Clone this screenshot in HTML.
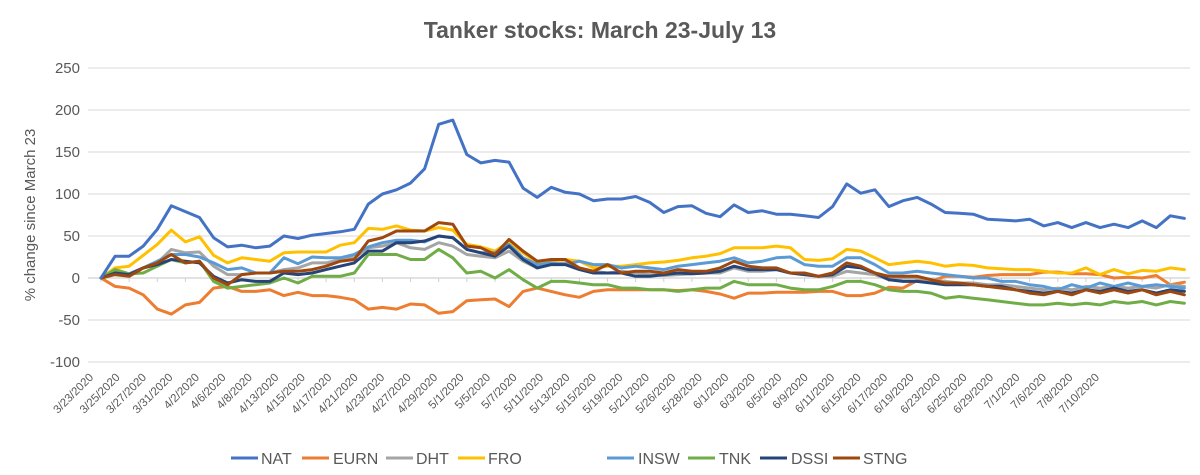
<!DOCTYPE html>
<html><head><meta charset="utf-8"><style>
html,body{margin:0;padding:0;background:#fff;}
svg{display:block;font-family:"Liberation Sans",sans-serif;}
</style></head><body>
<svg id="c" width="1200" height="475" viewBox="0 0 1200 475" xmlns="http://www.w3.org/2000/svg">
<rect width="1200" height="475" fill="#fff"/>
<text x="600" y="38" text-anchor="middle" font-size="23" font-weight="bold" fill="#595959">Tanker stocks: March 23-July 13</text>
<text transform="translate(35,215) rotate(-90)" text-anchor="middle" font-size="15" fill="#595959">% change since March 23</text>
<g id="grid"></g><g id="xl"></g><g id="ser"></g><g id="leg"></g>
</svg>
<script>
const NS="http://www.w3.org/2000/svg";
function el(t,a,p,txt){const e=document.createElementNS(NS,t);for(const k in a)e.setAttribute(k,a[k]);if(txt!==undefined)e.textContent=txt;p.appendChild(e);return e;}
const Y=v=>278-v*0.84, X=i=>101+i*14.07;
const g=document.getElementById('grid');
for(let v=-100;v<=250;v+=50){
  el('line',{x1:88,x2:1190,y1:Y(v),y2:Y(v),stroke:v===0?'#d0d0d0':'#e0e0e0','stroke-width':1.3},g);
  el('text',{x:80,y:Y(v)+5,'text-anchor':'end','font-size':15,fill:'#595959'},g,String(v));
}
for(let i=0;i<=77;i+=2) el('line',{x1:X(i),x2:X(i),y1:278,y2:282,stroke:'#d0d0d0'},g);
const labels=["3/23/2020","3/25/2020","3/27/2020","3/31/2020","4/2/2020","4/6/2020","4/8/2020","4/13/2020","4/15/2020","4/17/2020","4/21/2020","4/23/2020","4/27/2020","4/29/2020","5/1/2020","5/5/2020","5/7/2020","5/11/2020","5/13/2020","5/15/2020","5/19/2020","5/21/2020","5/26/2020","5/28/2020","6/1/2020","6/3/2020","6/5/2020","6/9/2020","6/11/2020","6/15/2020","6/17/2020","6/19/2020","6/23/2020","6/25/2020","6/29/2020","7/1/2020","7/6/2020","7/8/2020","7/10/2020"];
const xl=document.getElementById('xl');
labels.forEach((l,i)=>{const x=94+i*26.47,y=378;el('text',{x:x,y:y,transform:`rotate(-45 ${x} ${y})`,'text-anchor':'end','font-size':11.5,fill:'#595959'},xl,l);});
const S=[
["NAT","#4472C4",[0,26,26,38,58,86,79,72,48,37,39,36,38,50,47,51,53,55,58,88,100,105,113,130,183,188,147,137,140,138,107,96,108,102,100,92,94,94,97,90,78,85,86,77,73,87,78,80,76,76,74,72,85,112,101,105,85,92,96,88,78,77,76,70,69,68,70,62,66,60,66,60,64,60,68,60,74,71]],
["EURN","#ED7D31",[0,-10,-12,-20,-37,-43,-32,-29,-12,-10,-16,-16,-14,-21,-17,-21,-21,-23,-26,-37,-35,-37,-31,-32,-42,-40,-27,-26,-25,-34,-16,-12,-16,-20,-23,-16,-14,-14,-14,-14,-14,-15,-14,-16,-19,-24,-18,-18,-17,-17,-17,-16,-16,-21,-21,-18,-11,-12,-3,-4,2,2,1,3,4,4,4,7,7,5,5,4,0,1,0,3,-8,-5]],
["DHT","#A5A5A5",[0,8,4,12,18,34,30,31,14,4,4,6,6,10,12,18,18,22,24,36,38,42,36,34,42,38,28,26,24,32,20,12,16,18,12,8,6,8,6,4,3,4,5,6,6,12,8,8,10,6,4,2,2,8,6,4,-2,0,0,-2,-4,-6,-6,-8,-8,-10,-12,-14,-12,-14,-10,-12,-10,-12,-10,-12,-8,-10]],
["FRO","#FFC000",[0,12,14,27,40,57,43,49,27,18,24,22,20,30,31,31,31,39,42,59,58,62,57,56,60,57,40,37,32,43,30,18,20,22,20,12,14,14,16,18,19,21,24,26,29,36,36,36,38,36,22,21,23,34,32,24,16,18,20,18,14,16,15,12,11,10,10,8,6,6,12,4,10,5,9,8,12,10]],
["INSW","#5B9BD5",[0,8,5,12,20,28,28,25,18,10,12,6,6,24,17,25,24,24,28,37,42,45,45,43,50,48,34,30,30,40,24,16,18,16,20,16,16,12,14,12,10,14,16,18,20,24,18,20,24,25,16,14,14,24,24,16,6,6,8,6,4,2,0,0,-4,-4,-8,-10,-14,-8,-12,-6,-10,-6,-10,-8,-10,-12]],
["TNK","#70AD47",[0,10,5,6,14,22,18,20,-4,-12,-10,-8,-6,0,-6,2,2,2,6,28,28,28,22,22,34,24,6,8,0,10,-2,-12,-4,-4,-6,-8,-8,-12,-12,-14,-14,-16,-14,-12,-12,-4,-8,-8,-8,-12,-14,-14,-10,-4,-4,-8,-14,-16,-16,-18,-24,-22,-24,-26,-28,-30,-32,-32,-30,-32,-30,-32,-28,-30,-28,-32,-28,-30]],
["DSSI","#264478",[0,6,4,12,16,22,20,18,2,-6,-2,-4,-4,6,4,6,10,14,18,32,32,42,42,44,50,48,34,30,26,38,22,12,16,16,10,6,6,6,2,2,4,6,5,6,8,14,10,10,10,6,4,2,4,14,12,6,-2,-4,-4,-6,-8,-8,-8,-10,-10,-14,-16,-18,-16,-18,-14,-16,-12,-16,-14,-18,-14,-16]],
["STNG","#9E480E",[0,4,2,12,18,28,18,20,0,-8,4,6,6,8,8,10,14,20,22,44,48,56,56,56,66,64,38,36,28,46,32,20,22,22,12,8,16,6,8,8,6,10,8,8,12,20,14,12,12,6,6,2,6,18,14,6,2,2,2,-2,-6,-6,-8,-10,-12,-14,-18,-20,-16,-20,-14,-18,-14,-18,-14,-20,-16,-20]]
];
const drawOrder=[1,2,3,4,5,6,7,0];
const sg=document.getElementById('ser');
drawOrder.forEach(k=>{const s=S[k];el('polyline',{points:s[2].map((v,i)=>X(i).toFixed(1)+','+Y(v).toFixed(1)).join(' '),fill:'none',stroke:s[1],'stroke-width':3,'stroke-linejoin':'round','stroke-linecap':'round'},sg);});
const lg=document.getElementById('leg');
const lx=[231,302,386,458,607,688,760,833],tx=[261,333,416,488,638,719,791,863];
S.forEach((s,i)=>{el('line',{x1:lx[i],x2:lx[i]+27,y1:458,y2:458,stroke:s[1],'stroke-width':3},lg);el('text',{x:tx[i],y:464,'font-size':16,fill:'#595959'},lg,s[0]);});
</script>
</body></html>
